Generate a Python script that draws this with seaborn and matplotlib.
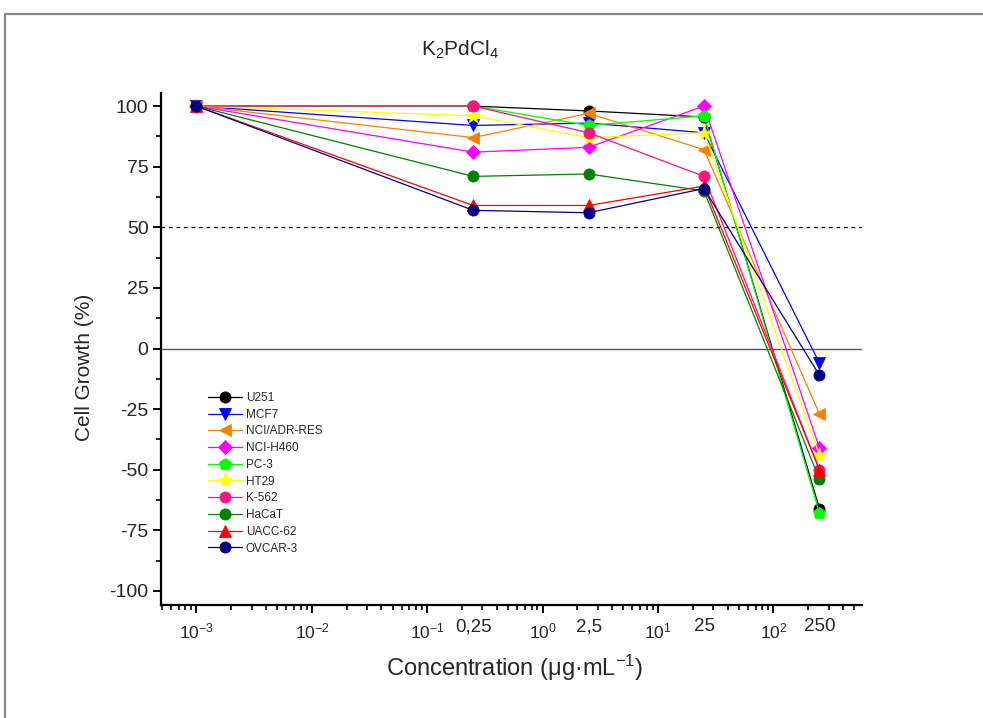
import matplotlib
matplotlib.use("Agg")
import matplotlib.pyplot as plt
from matplotlib.lines import Line2D
from matplotlib.ticker import LogLocator, FixedLocator, MultipleLocator, NullFormatter
import matplotlib.transforms as mtransforms
import numpy as np
import seaborn as sns

sns.set_style("white")
plt.rcParams["font.family"] = ["Liberation Sans", "DejaVu Sans"]
plt.rcParams["mathtext.fontset"] = "custom"
plt.rcParams["mathtext.rm"] = "Liberation Sans"
plt.rcParams["mathtext.it"] = "Liberation Sans"
plt.rcParams["mathtext.default"] = "regular"
plt.rcParams["axes.unicode_minus"] = False

# concentrations (ug/mL) and cell growth (%) per cell line
conc = [0.001, 0.25, 2.5, 25, 250]
u251 = [100, 100, 98, 95.5, -66]
mcf7 = [100, 92, 93, 89, -6]
nci_adr_res = [100, 87, 97, 82, -27]
nci_h460 = [100, 81, 83, 100, -41]
pc3 = [100, 100, 92, 96, -68]
ht29 = [100, 96, 87, 89, -44]
k562 = [100, 100, 89, 71, -50]
hacat = [100, 71, 72, 65, -54]
uacc62 = [100, 59, 59, 67, -50]
ovcar3 = [100, 57, 56, 66, -11]

names = ["U251", "MCF7", "NCI/ADR-RES", "NCI-H460", "PC-3",
         "HT29", "K-562", "HaCaT", "UACC-62", "OVCAR-3"]
series = [u251, mcf7, nci_adr_res, nci_h460, pc3, ht29, k562, hacat, uacc62, ovcar3]
colors = ["#000000", "#0000FF", "#FF8000", "#FF00FF", "#00FF00",
          "#FFFF00", "#FF1480", "#008000", "#FF0000", "#000080"]
markers = ["o", "v", "<", "D", "p", "*", "o", "o", "^", "o"]
msizes = [8, 8.5, 9, 7, 9, 11, 8, 8, 8.5, 8]

x_major = [1e-3, 1e-2, 1e-1, 1e0, 1e1, 1e2]
x_major_labels = ["$10^{-3}$", "$10^{-2}$", "$10^{-1}$", "$10^{0}$", "$10^{1}$", "$10^{2}$"]
conc_labels = ["0,25", "2,5", "25", "250"]
y_ticks = [-100, -75, -50, -25, 0, 25, 50, 75, 100]

W, H = 983, 718
fig = plt.figure(figsize=(W / 100, H / 100), dpi=100)
ax = fig.add_axes([161 / W, 1 - 605 / H, 701 / W, 512 / H])

# reference lines
ax.axhline(0, color="#555555", lw=1.0, zorder=1)
ax.axhline(50, color="#000000", lw=0.9, ls=(0, (3, 3)), zorder=1)

for name, vals, c, m, ms in zip(names, series, colors, markers, msizes):
    sns.lineplot(x=conc, y=vals, color=c, marker=m, markersize=ms,
                 markeredgecolor=c, markeredgewidth=0.6, linewidth=0.9,
                 label=name, ax=ax, zorder=3)

ax.set_xscale("log")
ax.set_xlim(10 ** -3.3076, 10 ** 2.767)
ax.set_ylim(-105.8, 105.4)

ax.xaxis.set_major_locator(FixedLocator(x_major))
ax.set_xticklabels(x_major_labels)
ax.xaxis.set_minor_locator(LogLocator(base=10, subs=np.arange(2, 10)))
ax.xaxis.set_minor_formatter(NullFormatter())
ax.set_yticks(y_ticks)
ax.set_yticklabels([str(v) for v in y_ticks])
ax.yaxis.set_minor_locator(MultipleLocator(12.5))

ax.tick_params(axis="both", which="major", direction="out", length=6, width=1.4,
               labelsize=14, color="black")
ax.tick_params(axis="both", which="minor", direction="out", length=3.5, width=1.2,
               color="black")
ax.tick_params(axis="x", which="major", pad=6, labelsize=12.5)
ax.tick_params(axis="y", which="major", pad=3)
ax.tick_params(axis="both", which="both", bottom=True, left=True)

for side in ["top", "right"]:
    ax.spines[side].set_visible(False)
for side in ["left", "bottom"]:
    ax.spines[side].set_linewidth(1.6)
    ax.spines[side].set_color("black")

# tested concentrations written next to the decade labels
trans = mtransforms.blended_transform_factory(ax.transData, ax.transAxes)
for xv, lab in zip(conc[1:], conc_labels):
    ax.text(xv, -0.026, lab, transform=trans, ha="center", va="top", fontsize=13.5)

ax.set_xlabel("")
ax.set_ylabel("")
fig.text(515 / W, 1 - 668 / H, "Concentration (\u03bcg\u00b7mL$^{-1}$)",
         ha="center", va="center", fontsize=17)
fig.text(85 / W, 1 - 367 / H, "Cell Growth (%)", rotation=90,
         ha="center", va="center", fontsize=15)
fig.text(460 / W, 1 - 50 / H, "K$_2$PdCl$_4$", ha="center", va="center", fontsize=15)

leg = ax.legend(loc="upper left", bbox_to_anchor=((208 - 161) / 701, (605 - 392) / 512),
                frameon=False, fontsize=8.5, borderpad=0, borderaxespad=0,
                handlelength=2.9, handletextpad=0.3, labelspacing=0.4,
                markerscale=1.0)

# outer frame of the page
fig.add_artist(Line2D([5 / W, 1], [1 - 14 / H, 1 - 14 / H], transform=fig.transFigure,
                      color="#888888", lw=1.6))
fig.add_artist(Line2D([5 / W, 5 / W], [0, 1 - 14 / H], transform=fig.transFigure,
                      color="#888888", lw=1.6))

fig.savefig("out.png", dpi=100)
